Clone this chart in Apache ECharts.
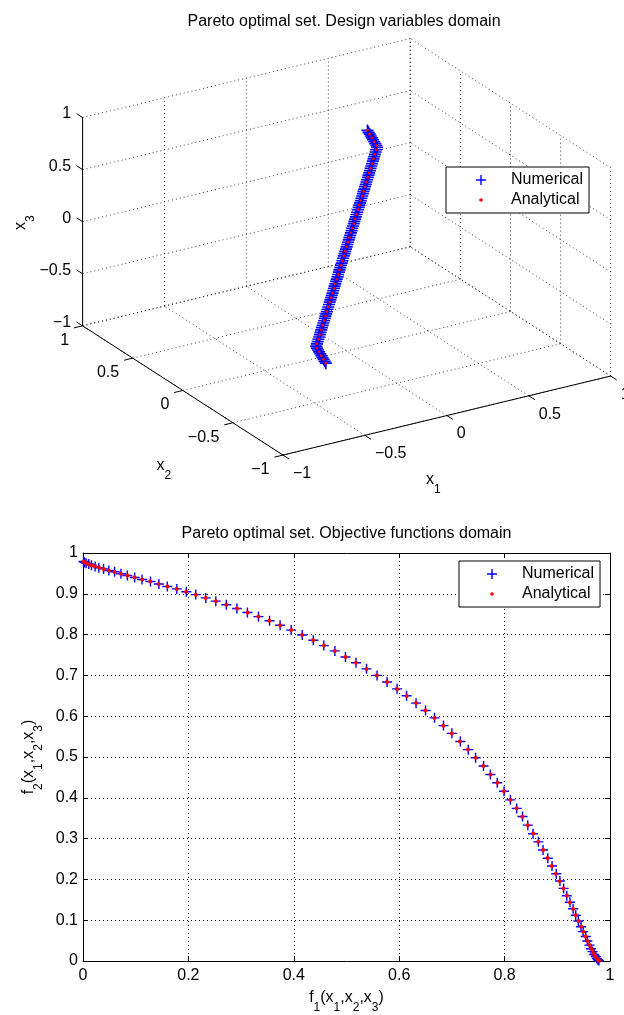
<!DOCTYPE html>
<html><head><meta charset="utf-8">
<script src="https://cdn.jsdelivr.net/npm/echarts@6/dist/echarts.min.js"></script>
<style>html,body{margin:0;padding:0;background:#fff}#c{width:624px;height:1015px}</style>
</head><body><div id="c"></div>
<script>
// ================= DATA =================
const title3d = 'Pareto optimal set. Design variables domain';
const title2d = 'Pareto optimal set. Objective functions domain';
const seriesNames = ['Numerical', 'Analytical'];

// 3D axes ticks
const ticks3d = [-1, -0.5, 0, 0.5, 1];
const tickLabels3d = ['\u22121', '\u22120.5', '0', '0.5', '1'];

// Pareto optimal set (design variables), analytical
const anaX1 = [0.480,0.480,0.480,0.480,0.480,0.466,0.444,0.422,0.399,0.377,0.355,0.333,0.311,0.288,0.266,0.244,0.222,0.200,0.178,0.155,0.133,0.111,0.089,0.067,0.044,0.022,0.000,-0.022,-0.044,-0.067,-0.089,-0.111,-0.133,-0.155,-0.178,-0.200,-0.222,-0.244,-0.266,-0.288,-0.311,-0.333,-0.355,-0.377,-0.399,-0.422,-0.444,-0.466,-0.480,-0.480,-0.480,-0.480,-0.480];
const anaX2 = [0.577,0.555,0.533,0.510,0.488,0.466,0.444,0.422,0.399,0.377,0.355,0.333,0.311,0.288,0.266,0.244,0.222,0.200,0.178,0.155,0.133,0.111,0.089,0.067,0.044,0.022,0.000,-0.022,-0.044,-0.067,-0.089,-0.111,-0.133,-0.155,-0.178,-0.200,-0.222,-0.244,-0.266,-0.288,-0.311,-0.333,-0.355,-0.377,-0.399,-0.422,-0.444,-0.466,-0.488,-0.510,-0.533,-0.555,-0.577];
const anaX3 = [0.577,0.555,0.533,0.510,0.488,0.466,0.444,0.422,0.399,0.377,0.355,0.333,0.311,0.288,0.266,0.244,0.222,0.200,0.178,0.155,0.133,0.111,0.089,0.067,0.044,0.022,0.000,-0.022,-0.044,-0.067,-0.089,-0.111,-0.133,-0.155,-0.178,-0.200,-0.222,-0.244,-0.266,-0.288,-0.311,-0.333,-0.355,-0.377,-0.399,-0.422,-0.444,-0.466,-0.488,-0.510,-0.533,-0.555,-0.577];
// Pareto optimal set (design variables), numerical (denser)
const numX1 = [0.480,0.480,0.480,0.480,0.480,0.480,0.480,0.480,0.480,0.477,0.466,0.455,0.444,0.433,0.422,0.411,0.399,0.388,0.377,0.366,0.355,0.344,0.333,0.322,0.311,0.300,0.289,0.277,0.266,0.255,0.244,0.233,0.222,0.211,0.200,0.189,0.178,0.166,0.155,0.144,0.133,0.122,0.111,0.100,0.089,0.078,0.067,0.055,0.044,0.033,0.022,0.011,0.000,-0.011,-0.022,-0.033,-0.044,-0.055,-0.067,-0.078,-0.089,-0.100,-0.111,-0.122,-0.133,-0.144,-0.155,-0.166,-0.178,-0.189,-0.200,-0.211,-0.222,-0.233,-0.244,-0.255,-0.266,-0.277,-0.289,-0.300,-0.311,-0.322,-0.333,-0.344,-0.355,-0.366,-0.377,-0.388,-0.399,-0.411,-0.422,-0.433,-0.444,-0.455,-0.466,-0.477,-0.480,-0.480,-0.480,-0.480,-0.480,-0.480,-0.480,-0.480,-0.480];
const numX2 = [0.577,0.566,0.555,0.544,0.533,0.522,0.510,0.499,0.488,0.477,0.466,0.455,0.444,0.433,0.422,0.411,0.399,0.388,0.377,0.366,0.355,0.344,0.333,0.322,0.311,0.300,0.289,0.277,0.266,0.255,0.244,0.233,0.222,0.211,0.200,0.189,0.178,0.166,0.155,0.144,0.133,0.122,0.111,0.100,0.089,0.078,0.067,0.055,0.044,0.033,0.022,0.011,0.000,-0.011,-0.022,-0.033,-0.044,-0.055,-0.067,-0.078,-0.089,-0.100,-0.111,-0.122,-0.133,-0.144,-0.155,-0.166,-0.178,-0.189,-0.200,-0.211,-0.222,-0.233,-0.244,-0.255,-0.266,-0.277,-0.289,-0.300,-0.311,-0.322,-0.333,-0.344,-0.355,-0.366,-0.377,-0.388,-0.399,-0.411,-0.422,-0.433,-0.444,-0.455,-0.466,-0.477,-0.488,-0.499,-0.510,-0.522,-0.533,-0.544,-0.555,-0.566,-0.577];
const numX3 = [0.577,0.566,0.555,0.544,0.533,0.522,0.510,0.499,0.488,0.477,0.466,0.455,0.444,0.433,0.422,0.411,0.399,0.388,0.377,0.366,0.355,0.344,0.333,0.322,0.311,0.300,0.289,0.277,0.266,0.255,0.244,0.233,0.222,0.211,0.200,0.189,0.178,0.166,0.155,0.144,0.133,0.122,0.111,0.100,0.089,0.078,0.067,0.055,0.044,0.033,0.022,0.011,0.000,-0.011,-0.022,-0.033,-0.044,-0.055,-0.067,-0.078,-0.089,-0.100,-0.111,-0.122,-0.133,-0.144,-0.155,-0.166,-0.178,-0.189,-0.200,-0.211,-0.222,-0.233,-0.244,-0.255,-0.266,-0.277,-0.289,-0.300,-0.311,-0.322,-0.333,-0.344,-0.355,-0.366,-0.377,-0.388,-0.399,-0.411,-0.422,-0.433,-0.444,-0.455,-0.466,-0.477,-0.488,-0.499,-0.510,-0.522,-0.533,-0.544,-0.555,-0.566,-0.577];

// 2D axes ticks
const xTicks2d = [0, 0.2, 0.4, 0.6, 0.8, 1];
const xTickLabels2d = ['0', '0.2', '0.4', '0.6', '0.8', '1'];
const yTicks2d = [0, 0.1, 0.2, 0.3, 0.4, 0.5, 0.6, 0.7, 0.8, 0.9, 1];
const yTickLabels2d = ['0', '0.1', '0.2', '0.3', '0.4', '0.5', '0.6', '0.7', '0.8', '0.9', '1'];

// Pareto front (objective functions)
const anaF1 = [0.0009,0.0029,0.0062,0.0105,0.0160,0.0226,0.0303,0.0391,0.0490,0.0598,0.0716,0.0843,0.0979,0.1124,0.1276,0.1436,0.1603,0.1777,0.1956,0.2141,0.2330,0.2524,0.2721,0.2921,0.3124,0.3329,0.3536,0.3743,0.3951,0.4159,0.4366,0.4573,0.4778,0.4981,0.5182,0.5380,0.5575,0.5768,0.5956,0.6141,0.6321,0.6497,0.6669,0.6836,0.6998,0.7155,0.7307,0.7454,0.7596,0.7733,0.7864,0.7990,0.8111,0.8227,0.8337,0.8443,0.8543,0.8639,0.8730,0.8816,0.8898,0.8975,0.9048,0.9117,0.9181,0.9242,0.9299,0.9353,0.9403,0.9450,0.9494,0.9535,0.9573,0.9609,0.9642,0.9672,0.9700,0.9727,0.9751,0.9773,0.9794];
const anaF2 = [0.9794,0.9773,0.9751,0.9727,0.9700,0.9672,0.9642,0.9609,0.9573,0.9535,0.9494,0.9450,0.9403,0.9353,0.9299,0.9242,0.9181,0.9117,0.9048,0.8975,0.8898,0.8816,0.8730,0.8639,0.8543,0.8443,0.8337,0.8227,0.8111,0.7990,0.7864,0.7733,0.7596,0.7454,0.7307,0.7155,0.6998,0.6836,0.6669,0.6497,0.6321,0.6141,0.5956,0.5768,0.5575,0.5380,0.5182,0.4981,0.4778,0.4573,0.4366,0.4159,0.3951,0.3743,0.3536,0.3329,0.3124,0.2921,0.2721,0.2524,0.2330,0.2141,0.1956,0.1777,0.1603,0.1436,0.1276,0.1124,0.0979,0.0843,0.0716,0.0598,0.0490,0.0391,0.0303,0.0226,0.0160,0.0105,0.0062,0.0029,0.0009];
const numF1 = [0.001,0.003,0.006,0.011,0.016,0.023,0.030,0.039,0.049,0.060,0.072,0.084,0.098,0.112,0.128,0.144,0.160,0.178,0.196,0.214,0.233,0.252,0.272,0.292,0.312,0.333,0.354,0.374,0.395,0.416,0.437,0.457,0.478,0.498,0.518,0.538,0.558,0.577,0.596,0.614,0.632,0.650,0.667,0.684,0.700,0.716,0.731,0.745,0.760,0.773,0.786,0.799,0.811,0.823,0.834,0.844,0.854,0.864,0.873,0.882,0.890,0.898,0.905,0.912,0.918,0.924,0.930,0.935,0.940,0.945,0.949,0.954,0.957,0.961,0.964,0.967,0.970,0.973,0.975,0.977,0.979];
const numF2 = [0.979,0.977,0.975,0.973,0.970,0.967,0.964,0.961,0.957,0.954,0.949,0.945,0.940,0.935,0.930,0.924,0.918,0.912,0.905,0.898,0.890,0.882,0.873,0.864,0.854,0.844,0.834,0.823,0.811,0.799,0.786,0.773,0.760,0.745,0.731,0.716,0.700,0.684,0.667,0.650,0.632,0.614,0.596,0.577,0.558,0.538,0.518,0.498,0.478,0.457,0.437,0.416,0.395,0.374,0.354,0.333,0.312,0.292,0.272,0.252,0.233,0.214,0.196,0.178,0.160,0.144,0.128,0.112,0.098,0.084,0.072,0.060,0.049,0.039,0.030,0.023,0.016,0.011,0.006,0.003,0.001];

// ================= VIEW / STYLE =================
const FONT = "'Liberation Sans', Arial, Helvetica, sans-serif";
const BLUE = '#0000ff', RED = '#ff0000';
// orthographic camera of the 3D box (MATLAB-like view)
const VIEW = { az: -31.45, el: 23.23, zStretch: 0.59, cx: 346.65, cy: 246.8, scale: 192.06, width: 624, height: 500 };
const AZ = VIEW.az * Math.PI / 180, EL = VIEW.el * Math.PI / 180;
function proj(p) {
  const a = p[0], b = p[1], c = p[2];
  return [Math.cos(AZ) * a + Math.sin(AZ) * b,
          -Math.sin(EL) * Math.sin(AZ) * a + Math.sin(EL) * Math.cos(AZ) * b + Math.cos(EL) * VIEW.zStretch * c];
}
const viewXMin = -VIEW.cx / VIEW.scale, viewXMax = (VIEW.width - VIEW.cx) / VIEW.scale;
const viewYMax = VIEW.cy / VIEW.scale, viewYMin = -(VIEW.height - VIEW.cy) / VIEW.scale;

const lo = ticks3d[0], hi = ticks3d[ticks3d.length - 1];
const gridSegs = [];
ticks3d.forEach(t => {
  gridSegs.push([[t, lo, lo], [t, hi, lo]]);
  gridSegs.push([[lo, t, lo], [hi, t, lo]]);
  gridSegs.push([[t, hi, lo], [t, hi, hi]]);
  gridSegs.push([[lo, hi, t], [hi, hi, t]]);
  gridSegs.push([[hi, t, lo], [hi, t, hi]]);
  gridSegs.push([[hi, lo, t], [hi, hi, t]]);
});
const axisSegs = [[[lo, hi, lo], [lo, hi, hi]], [[lo, hi, lo], [lo, lo, lo]], [[lo, lo, lo], [hi, lo, lo]]];
ticks3d.forEach(t => {
  axisSegs.push([[lo, hi, t], [lo, hi + 0.06, t]]);
  axisSegs.push([[lo, t, lo], [lo - 0.053, t, lo]]);
  axisSegs.push([[t, lo, lo], [t, lo - 0.06, lo]]);
});
const labels3d = [];
ticks3d.forEach((t, i) => {
  labels3d.push({ p: [lo, hi, t], text: tickLabels3d[i], dx: -11.5, dy: -3.5, align: 'right' });
  labels3d.push({ p: [lo, t, lo], text: tickLabels3d[i], dx: -13.5, dy: 14.5, align: 'right' });
  labels3d.push({ p: [t, lo, lo], text: tickLabels3d[i], dx: 10, dy: 18.5, align: 'left' });
});
labels3d.push({ p: [lo, hi, 0], text: '{m|x}{s|3}', dx: -62.4, dy: 1, align: 'center', va: 'middle', rotate: 90 });
labels3d.push({ p: [lo, 0, lo], text: '{m|x}{s|2}', dx: -26.4, dy: 67.5, align: 'left', va: 'top' });
labels3d.push({ p: [0, lo, lo], text: '{m|x}{s|1}', dx: -20.8, dy: 55.8, align: 'left', va: 'top' });

const RICH = {
  m: { fontSize: 16, lineHeight: 16, verticalAlign: 'top', fontFamily: FONT, color: '#000' },
  s: { fontSize: 12, lineHeight: 12, verticalAlign: 'top', padding: [12, 0, 0, 0], fontFamily: FONT, color: '#000' }
};

function segSeries(segs, style, z) {
  return {
    type: 'custom', xAxisIndex: 0, yAxisIndex: 0, silent: true, z: z, clip: false,
    data: segs.map(s => proj(s[0]).concat(proj(s[1]))),
    encode: { x: [0, 2], y: [1, 3] },
    renderItem: function (params, api) {
      const a = api.coord([api.value(0), api.value(1)]);
      const b = api.coord([api.value(2), api.value(3)]);
      return { type: 'line', shape: { x1: a[0], y1: a[1], x2: b[0], y2: b[1] }, style: style };
    }
  };
}

const PLUS = 'path://M4.3,0H5.7V4.3H10V5.7H5.7V10H4.3V5.7H0V4.3H4.3Z';
const LEG_PLUS = 'path://M0,0L0,0M50,10L50,10M24.3,0H25.7V4.3H30V5.7H25.7V10H24.3V5.7H20V4.3H24.3Z';
const LEG_DOT = 'path://M0,0L0,0M50,10L50,10M25,3.2A1.8,1.8,0,1,1,25,6.8A1.8,1.8,0,1,1,25,3.2Z';
const legendData = [{ name: seriesNames[0], icon: LEG_PLUS }, { name: seriesNames[1], icon: LEG_DOT }];
function legendAt(left, top, padL) {
  return {
    left: left, top: top, orient: 'vertical', data: legendData, itemWidth: 50, itemHeight: 10, itemGap: 4,
    padding: [5, 6, 5, padL], borderColor: '#000', borderWidth: 1, borderRadius: 0, backgroundColor: '#fff',
    selectedMode: false, itemStyle: { borderWidth: 0 },
    textStyle: { fontSize: 16, lineHeight: 16, fontFamily: FONT, color: '#000' }
  };
}
function lookup(ticks, labels) {
  return v => { const i = ticks.findIndex(t => Math.abs(t - v) < 1e-9); return i >= 0 ? labels[i] : ''; };
}
const axisLine2d = { show: true, onZero: false, lineStyle: { color: '#000', width: 1 } };
const tick2d = { show: true, inside: true, length: 5, lineStyle: { color: '#000', width: 1 } };
const split2d = { show: true, lineStyle: { color: '#000', width: 1, type: [1, 3] } };
const label2d = { color: '#000', fontSize: 16, fontFamily: FONT };

const option = {
  animation: false,
  backgroundColor: '#fff',
  textStyle: { fontFamily: FONT },
  title: [
    { text: title3d, left: 344, top: 14, textAlign: 'center', padding: 0, textStyle: { fontSize: 16, fontWeight: 'normal', fontFamily: FONT, color: '#000' } },
    { text: title2d, left: 346.5, top: 526, textAlign: 'center', padding: 0, textStyle: { fontSize: 16, fontWeight: 'normal', fontFamily: FONT, color: '#000' } }
  ],
  legend: [legendAt(446, 167, 10), legendAt(459, 561, 8)],
  grid: [
    { left: 0, top: 0, width: VIEW.width, height: VIEW.height, show: false },
    { left: 83, top: 553, width: 527, height: 415, show: false }
  ],
  xAxis: [
    { gridIndex: 0, type: 'value', min: viewXMin, max: viewXMax, show: false, splitLine: { show: false } },
    { gridIndex: 1, type: 'value', position: 'bottom', min: xTicks2d[0], max: xTicks2d[xTicks2d.length - 1], interval: xTicks2d[1] - xTicks2d[0],
      axisLine: axisLine2d, axisTick: tick2d, splitLine: split2d,
      axisLabel: Object.assign({ margin: 7, formatter: lookup(xTicks2d, xTickLabels2d) }, label2d),
      name: '{m|f}{s|1}{m|(x}{s|1}{m|,x}{s|2}{m|,x}{s|3}{m|)}', nameLocation: 'middle', nameGap: 29,
      nameTextStyle: { rich: RICH } },
    { gridIndex: 1, type: 'value', position: 'top', min: xTicks2d[0], max: xTicks2d[xTicks2d.length - 1], interval: xTicks2d[1] - xTicks2d[0],
      axisLine: axisLine2d, axisTick: tick2d, splitLine: { show: false }, axisLabel: { show: false } }
  ],
  yAxis: [
    { gridIndex: 0, type: 'value', min: viewYMin, max: viewYMax, show: false, splitLine: { show: false } },
    { gridIndex: 1, type: 'value', position: 'left', min: yTicks2d[0], max: yTicks2d[yTicks2d.length - 1], interval: 0.1,
      axisLine: axisLine2d, axisTick: tick2d, splitLine: split2d,
      axisLabel: Object.assign({ margin: 5, formatter: lookup(yTicks2d, yTickLabels2d) }, label2d),
      name: '{m|f}{s|2}{m|(x}{s|1}{m|,x}{s|2}{m|,x}{s|3}{m|)}', nameLocation: 'middle', nameGap: 32,
      nameTextStyle: { rich: RICH } },
    { gridIndex: 1, type: 'value', position: 'right', min: yTicks2d[0], max: yTicks2d[yTicks2d.length - 1], interval: 0.1,
      axisLine: axisLine2d, axisTick: tick2d, splitLine: { show: false }, axisLabel: { show: false } }
  ],
  series: [
    segSeries(gridSegs, { stroke: '#000', lineWidth: 1, lineDash: [1, 3], opacity: 0.75 }, 1),
    segSeries(axisSegs, { stroke: '#000', lineWidth: 1 }, 2),
    {
      type: 'custom', xAxisIndex: 0, yAxisIndex: 0, silent: true, z: 3, clip: false,
      data: labels3d.map(L => proj(L.p)),
      encode: { x: 0, y: 1 },
      renderItem: function (params, api) {
        const L = labels3d[params.dataIndex];
        const c = api.coord([api.value(0), api.value(1)]);
        return {
          type: 'text', x: c[0] + L.dx, y: c[1] + L.dy, rotation: L.rotate ? L.rotate * Math.PI / 180 : 0,
          style: { text: L.text, fill: '#000', fontSize: 16, fontFamily: FONT, align: L.align, verticalAlign: L.va || 'middle', rich: RICH }
        };
      }
    },
    { name: seriesNames[0], type: 'scatter', xAxisIndex: 0, yAxisIndex: 0, clip: false, z: 4,
      symbol: PLUS, symbolSize: 12, itemStyle: { color: BLUE, opacity: 1 },
      data: numX1.map((v, i) => proj([v, numX2[i], numX3[i]])) },
    { name: seriesNames[1], type: 'scatter', xAxisIndex: 0, yAxisIndex: 0, clip: false, z: 5,
      symbol: 'circle', symbolSize: 2.8, itemStyle: { color: RED, opacity: 1 },
      data: anaX1.map((v, i) => proj([v, anaX2[i], anaX3[i]])) },
    { name: seriesNames[0], type: 'scatter', xAxisIndex: 1, yAxisIndex: 1, clip: false, z: 4,
      symbol: PLUS, symbolSize: 10, itemStyle: { color: BLUE, opacity: 1 },
      data: numF1.map((v, i) => [v, numF2[i]]) },
    { name: seriesNames[1], type: 'scatter', xAxisIndex: 1, yAxisIndex: 1, clip: false, z: 5,
      symbol: 'circle', symbolSize: 4, itemStyle: { color: RED, opacity: 1 },
      data: anaF1.map((v, i) => [v, anaF2[i]]) }
  ]
};
const chart = echarts.init(document.getElementById('c'), null, { renderer: 'canvas' });
chart.setOption(option);
</script>
</body></html>
